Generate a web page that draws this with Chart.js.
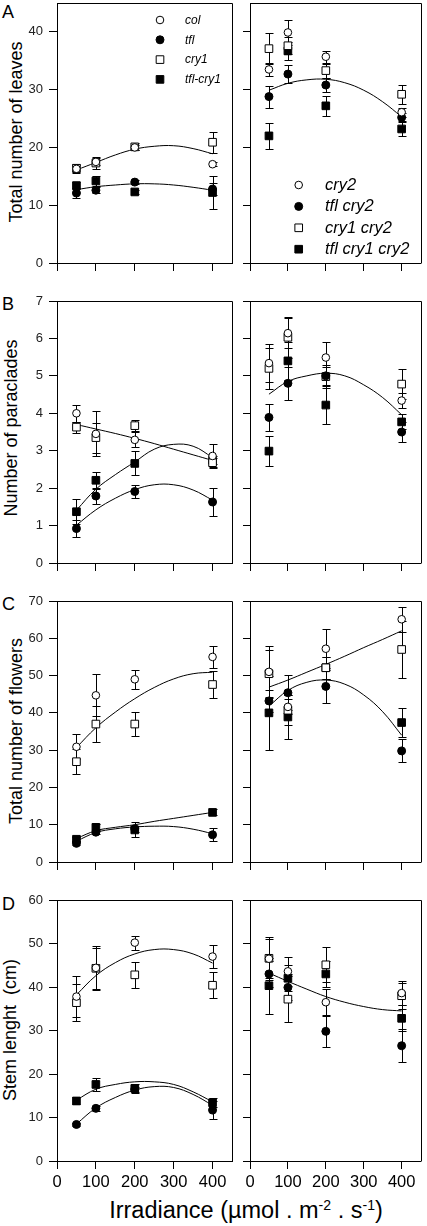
<!DOCTYPE html>
<html>
<head>
<meta charset="utf-8">
<script src="https://cdn.jsdelivr.net/npm/chart.js@4.4.1/dist/chart.umd.min.js"></script>
<style>
  html, body { margin: 0; padding: 0; background: #fff; }
  body { width: 427px; height: 1226px; position: relative; overflow: hidden;
         font-family: "Liberation Sans", Arial, sans-serif; color: #000; }
  canvas { position: absolute; }
  .ytitle { position: absolute; width: 300px; height: 20px; text-align: center;
            font-size: 18px; line-height: 20px; transform: rotate(-90deg); white-space: pre; }
  .letter { position: absolute; left: 2px; font-size: 18px; line-height: 18px; }
  .xtitle { position: absolute; left: 26px; width: 440px; top: 1199px; text-align: center;
            font-size: 23.5px; line-height: 23.5px; white-space: pre; }
  .xtitle sup { font-size: 0.6em; vertical-align: 0.55em; line-height: 0; }
</style>
</head>
<body>
<div class="letter" style="top:2.6px">A</div>
<div class="letter" style="top:294.6px">B</div>
<div class="letter" style="top:594.6px">C</div>
<div class="letter" style="top:894.6px">D</div>
<div class="ytitle" style="left:-134px; top:122px">Total number of leaves</div>
<div class="ytitle" style="left:-139px; top:418px">Number of paraclades</div>
<div class="ytitle" style="left:-134px; top:720.5px">Total number of flowers</div>
<div class="ytitle" style="left:-140px; top:1020px">Stem lenght  (cm)</div>
<div class="xtitle">Irradiance (µmol . m<sup>-2</sup> . s<sup>-1</sup>)</div>

<script>
// ---------------- DATA ----------------
const X = [50, 100, 200, 400];                       // irradiance levels
const FIT_X = [50, 100, 150, 200, 250, 300, 350, 400]; // positions where fitted curves were read
const X_TICKS = [0, 100, 200, 300, 400];

const LEGEND_LEFT = ['col', 'tfl', 'cry1', 'tfl-cry1'];
const LEGEND_RIGHT = ['cry2', 'tfl cry2', 'cry1 cry2', 'tfl cry1 cry2'];

// A: Total number of leaves
const Y_TICKS_LEAVES = [0, 10, 20, 30, 40];
const leavesCol        = [16.3, 17.5, 20.0, 17.1];
const leavesColErr     = [0.6, 0.6, 0.5, 0.3];
const leavesTfl        = [12.1, 12.6, 14.0, 12.8];
const leavesTflErr     = [0.8, 0.5, 0.3, 1.0];
const leavesCry1       = [16.4, 17.3, 20.1, 20.9];
const leavesCry1Err    = [0.8, 1.0, 0.6, 1.8];
const leavesTflCry1    = [13.4, 14.2, 12.3, 12.2];
const leavesTflCry1Err = [0.6, 0.9, 0.4, 2.8];
const leavesCry2            = [33.5, 39.9, 35.7, 26.1];
const leavesCry2Err         = [1.2, 2.1, 1.0, 0.8];
const leavesTflCry2         = [28.8, 32.7, 30.8, 25.2];
const leavesTflCry2Err      = [1.9, 1.5, 1.2, 0.8];
const leavesCry1Cry2        = [37.1, 37.6, 33.3, 29.2];
const leavesCry1Cry2Err     = [2.7, 1.5, 1.2, 1.6];
const leavesTflCry1Cry2     = [22.0, 36.7, 27.2, 23.2];
const leavesTflCry1Cry2Err  = [2.3, 1.6, 1.7, 1.3];
const leavesFitL1 = [16.1, 17.4, 18.7, 19.7, 20.2, 20.3, 19.8, 18.9];
const leavesFitL2 = [12.7, 13.2, 13.5, 13.7, 13.7, 13.5, 13.1, 12.6];
const leavesFitR  = [29.9, 31.1, 31.7, 31.8, 31.2, 29.9, 27.9, 25.3];

// B: Number of paraclades
const Y_TICKS_PARA = [0, 1, 2, 3, 4, 5, 6, 7];
const paraCol        = [4.00, 3.45, 3.29, 2.86];
const paraColErr     = [0.22, 0.6, 0.2, 0.33];
const paraTfl        = [0.92, 1.79, 1.91, 1.63];
const paraTflErr     = [0.22, 0.22, 0.17, 0.38];
const paraCry1       = [3.63, 3.35, 3.67, 2.68];
const paraCry1Err    = [0.15, 0.4, 0.15, 0.12];
const paraTflCry1    = [1.37, 2.21, 2.66, 2.75];
const paraTflCry1Err = [0.33, 0.22, 0.32, 0.1];
const paraCry2           = [5.34, 6.14, 5.49, 4.34];
const paraCry2Err        = [0.5, 0.4, 0.42, 0.2];
const paraTflCry2        = [3.89, 4.80, 5.00, 3.50];
const paraTflCry2Err     = [0.35, 0.45, 0.25, 0.27];
const paraCry1Cry2       = [5.20, 6.03, 4.98, 4.78];
const paraCry1Cry2Err    = [0.55, 0.55, 0.3, 0.4];
const paraTflCry1Cry2    = [2.99, 5.40, 4.22, 3.77];
const paraTflCry1Cry2Err = [0.4, 0.5, 0.5, 0.2];
const paraFitL1 = [3.70, 3.58, 3.46, 3.33, 3.19, 3.04, 2.89, 2.74];
const paraFitL2 = [1.41, 1.97, 2.36, 2.70, 3.04, 3.17, 3.12, 2.82];
const paraFitL3 = [1.01, 1.42, 1.73, 1.96, 2.09, 2.09, 1.95, 1.68];
const paraFitR  = [4.51, 4.85, 5.00, 5.07, 5.00, 4.76, 4.42, 3.96];

// C: Total number of flowers
const Y_TICKS_FLOWERS = [0, 10, 20, 30, 40, 50, 60, 70];
const flowCol        = [30.9, 44.7, 49.0, 55.0];
const flowColErr     = [3.4, 5.6, 2.6, 3.0];
const flowTfl        = [5.0, 8.0, 8.9, 7.3];
const flowTflErr     = [0.5, 0.6, 0.8, 1.8];
const flowCry1       = [26.9, 37.0, 37.0, 47.6];
const flowCry1Err    = [3.4, 4.8, 3.3, 3.7];
const flowTflCry1    = [6.1, 9.3, 8.6, 13.3];
const flowTflCry1Err = [0.6, 0.9, 2.0, 0.8];
const flowCry2           = [51.0, 41.6, 57.2, 65.1];
const flowCry2Err        = [7.0, 2.0, 5.3, 3.3];
const flowTflCry2        = [43.2, 45.4, 47.1, 29.8];
const flowTflCry2Err     = [3.0, 4.7, 4.4, 3.1];
const flowCry1Cry2       = [50.5, 40.7, 52.1, 57.0];
const flowCry1Cry2Err    = [6.3, 4.0, 3.0, 7.6];
const flowTflCry1Cry2    = [40.0, 38.9, 52.1, 37.4];
const flowTflCry1Cry2Err = [10.0, 6.0, 3.0, 4.0];
const flowFitL1 = [30.7, 36.0, 40.2, 43.8, 46.8, 49.1, 50.5, 50.9];
const flowFitL2 = [6.3, 8.4, 9.3, 10.0, 10.9, 11.7, 12.5, 13.3];
const flowFitL3 = [5.6, 7.9, 8.9, 9.4, 9.6, 9.5, 8.8, 7.6];
const flowFitR1 = [46.9, 48.8, 50.9, 53.0, 55.2, 57.5, 59.7, 62.0];
const flowFitR2 = [41.8, 46.0, 48.2, 48.8, 47.7, 44.8, 40.3, 34.0];

// D: Stem length (cm)
const Y_TICKS_STEM = [0, 10, 20, 30, 40, 50, 60];
const stemCol        = [37.8, 44.4, 50.2, 47.0];
const stemColErr     = [4.8, 5.0, 1.6, 2.6];
const stemTfl        = [8.4, 12.1, 16.5, 11.7];
const stemTflErr     = [0.4, 0.5, 0.6, 2.0];
const stemCry1       = [36.4, 44.3, 42.8, 40.4];
const stemCry1Err    = [4.2, 4.7, 3.0, 3.0];
const stemTflCry1    = [13.8, 17.6, 16.7, 13.4];
const stemTflCry1Err = [0.8, 1.4, 1.0, 1.0];
const stemCry2           = [46.5, 43.6, 36.5, 38.6];
const stemCry2Err        = [5.0, 3.4, 3.0, 2.8];
const stemTflCry2        = [43.0, 39.9, 29.8, 26.5];
const stemTflCry2Err     = [3.0, 3.0, 3.6, 3.8];
const stemCry1Cry2       = [46.6, 37.2, 45.1, 38.0];
const stemCry1Cry2Err    = [4.5, 5.3, 4.0, 3.0];
const stemTflCry1Cry2    = [40.3, 42.0, 43.0, 32.8];
const stemTflCry1Cry2Err = [6.4, 3.0, 3.0, 3.0];
const stemFitL1 = [38.2, 42.6, 45.6, 47.6, 48.6, 48.6, 47.6, 45.5];
const stemFitL2 = [14.0, 16.5, 17.6, 18.2, 18.2, 17.6, 15.9, 13.6];
const stemFitL3 = [8.5, 12.2, 14.6, 16.3, 17.1, 16.9, 15.3, 12.8];
const stemFitR  = [43.2, 41.3, 39.5, 37.8, 36.5, 35.5, 34.8, 34.5];

// ---------------- STYLE ----------------
const STYLES = {
  openCircle:   { pointStyle: 'circle', r: 3.8, fill: '#fff' },
  filledCircle: { pointStyle: 'circle', r: 4.0, fill: '#000' },
  openSquare:   { pointStyle: 'rect',   r: 5.4, fill: '#fff' },
  filledSquare: { pointStyle: 'rect',   r: 5.4, fill: '#000' }
};
const STYLE_ORDER = ['openCircle', 'filledCircle', 'openSquare', 'filledSquare'];

// x tick label font: a narrow face if present
function hasFont(name) {
  const c = document.createElement('canvas').getContext('2d');
  c.font = '40px monospace'; const a = c.measureText('400 abc').width;
  c.font = '40px "' + name + '", monospace'; const b = c.measureText('400 abc').width;
  return Math.abs(a - b) > 0.5;
}
const X_TICK_FONT = hasFont('Liberation Sans Narrow')
  ? { family: '"Liberation Sans Narrow"', size: 19 }
  : { family: '"Liberation Sans"', size: 16.5 };

function pointSet(label, values, errors, styleName) {
  const s = STYLES[styleName];
  return {
    label, data: X.map((x, i) => ({ x, y: values[i] })), errors,
    showLine: false, pointStyle: s.pointStyle, pointRadius: s.r, pointHoverRadius: s.r,
    pointBackgroundColor: s.fill, pointBorderColor: '#000', pointBorderWidth: 1,
    backgroundColor: s.fill, borderColor: '#000', order: 0
  };
}
function fitSet(values) {
  return {
    data: FIT_X.map((x, i) => ({ x, y: values[i] })), showLine: true,
    pointRadius: 0, pointHoverRadius: 0, borderColor: '#000', borderWidth: 1,
    tension: 0.4, fill: false, order: 5
  };
}

const errorBars = {
  id: 'errorBars',
  beforeDatasetsDraw(chart) {
    const ctx = chart.ctx, xs = chart.scales.x, ys = chart.scales.y;
    ctx.save();
    ctx.strokeStyle = '#000'; ctx.lineWidth = 1;
    chart.data.datasets.forEach(ds => {
      if (!ds.errors) return;
      ds.data.forEach((pt, i) => {
        const e = ds.errors[i]; if (!e) return;
        const px = Math.round(xs.getPixelForValue(pt.x)) + 0.5;
        const y1 = Math.round(ys.getPixelForValue(pt.y + e)) + 0.5;
        const y2 = Math.round(ys.getPixelForValue(pt.y - e)) + 0.5;
        ctx.beginPath();
        ctx.moveTo(px, y1); ctx.lineTo(px, y2);
        ctx.moveTo(px - 4, y1); ctx.lineTo(px + 4, y1);
        ctx.moveTo(px - 4, y2); ctx.lineTo(px + 4, y2);
        ctx.stroke();
      });
    });
    ctx.restore();
  }
};

const frame = {
  id: 'frame',
  afterDraw(chart) {
    const { left, top, right, bottom } = chart.chartArea, ctx = chart.ctx;
    ctx.save(); ctx.strokeStyle = '#000'; ctx.lineWidth = 1;
    ctx.beginPath();
    const l = Math.round(left) + 0.5, t = Math.round(top) + 0.5, r = Math.round(right) + 0.5, b = Math.round(bottom) + 0.5;
    ctx.moveTo(l, t); ctx.lineTo(r, t); ctx.lineTo(r, b);
    ctx.stroke(); ctx.restore();
  }
};

const insetLegend = {
  id: 'insetLegend',
  afterDraw(chart, args, o) {
    if (!o || !o.labels) return;
    const ctx = chart.ctx, ca = chart.chartArea;
    ctx.save();
    o.labels.forEach((lab, i) => {
      const s = STYLES[STYLE_ORDER[i]];
      const cx = ca.left + o.dx, cy = ca.top + o.dy + i * o.step;
      ctx.fillStyle = s.fill; ctx.strokeStyle = '#000'; ctx.lineWidth = 1;
      ctx.beginPath();
      if (s.pointStyle === 'circle') ctx.arc(cx, cy, s.r, 0, Math.PI * 2);
      else { const h = s.r * Math.SQRT1_2; ctx.rect(cx - h, cy - h, 2 * h, 2 * h); }
      ctx.fill(); ctx.stroke();
      ctx.fillStyle = '#000'; ctx.font = 'italic ' + o.size + 'px "Liberation Sans", Arial, sans-serif';
      ctx.textBaseline = 'middle'; ctx.textAlign = 'left';
      ctx.fillText(lab, ca.left + o.tx, cy + 0.5);
    });
    ctx.restore();
  }
};

function makePanel(p) {
  const isL = p.col === 'L';
  const cw = isL ? 240 : 191, cl = isL ? 0 : 236;
  const yw = isL ? 57 : 14, pr = isL ? 8 : 3;
  const axisH = p.showX ? 30 : 8;
  const pb = p.showX ? 0 : 12;
  const plotH = p.bottom - p.top;
  const ch = 20 + plotH + axisH + pb;
  const cv = document.createElement('canvas');
  cv.width = cw; cv.height = ch;
  cv.style.left = cl + 'px'; cv.style.top = (p.top - 20) + 'px';
  cv.style.width = cw + 'px'; cv.style.height = ch + 'px';
  document.body.appendChild(cv);

  const datasets = p.series.map((s, i) => pointSet(s[0], s[1], s[2], STYLE_ORDER[i]))
    .concat(p.fits.map(fitSet));

  new Chart(cv, {
    type: 'scatter',
    data: { datasets },
    plugins: [errorBars, frame, insetLegend],
    options: {
      responsive: false, animation: false, devicePixelRatio: 1, events: [],
      layout: { padding: { top: 20, bottom: pb, left: 0, right: pr } },
      plugins: { legend: { display: false }, tooltip: { enabled: false },
                 insetLegend: p.legend || {} },
      scales: {
        x: {
          type: 'linear', position: 'bottom', min: 0, max: 450,
          afterBuildTicks: ax => { ax.ticks = X_TICKS.map(v => ({ value: v })); },
          afterFit: ax => { ax.height = axisH; },
          ticks: { display: p.showX, font: X_TICK_FONT, color: '#000', padding: 4,
                   maxRotation: 0, autoSkip: false },
          grid: { drawOnChartArea: false, drawTicks: true, tickLength: 8, color: '#000', lineWidth: 1 },
          border: { display: true, color: '#000', width: 1 }
        },
        y: {
          type: 'linear', position: 'left', min: 0, max: p.yMax,
          afterBuildTicks: ax => { ax.ticks = p.yTicks.map(v => ({ value: v })); },
          afterFit: ax => { ax.width = yw; },
          ticks: { display: isL, font: { family: '"Liberation Sans", Arial', size: 13 }, color: '#222', padding: 6 },
          grid: { drawOnChartArea: false, drawTicks: true, tickLength: isL ? 8 : 7, color: '#000', lineWidth: 1 },
          border: { display: true, color: '#000', width: 1 }
        }
      }
    }
  });
}

// ---------------- PANELS ----------------
makePanel({ col: 'L', top: 3, bottom: 263, yMax: 45, yTicks: Y_TICKS_LEAVES, showX: false,
  series: [[LEGEND_LEFT[0], leavesCol, leavesColErr], [LEGEND_LEFT[1], leavesTfl, leavesTflErr],
           [LEGEND_LEFT[2], leavesCry1, leavesCry1Err], [LEGEND_LEFT[3], leavesTflCry1, leavesTflCry1Err]],
  fits: [leavesFitL1, leavesFitL2],
  legend: { labels: LEGEND_LEFT, dx: 103, dy: 17, step: 19.8, tx: 128, size: 12 } });
makePanel({ col: 'R', top: 3, bottom: 263, yMax: 45, yTicks: Y_TICKS_LEAVES, showX: false,
  series: [[LEGEND_RIGHT[0], leavesCry2, leavesCry2Err], [LEGEND_RIGHT[1], leavesTflCry2, leavesTflCry2Err],
           [LEGEND_RIGHT[2], leavesCry1Cry2, leavesCry1Cry2Err], [LEGEND_RIGHT[3], leavesTflCry1Cry2, leavesTflCry1Cry2Err]],
  fits: [leavesFitR],
  legend: { labels: LEGEND_RIGHT, dx: 48.7, dy: 182, step: 21.4, tx: 75, size: 16.5 } });

makePanel({ col: 'L', top: 301, bottom: 563, yMax: 7, yTicks: Y_TICKS_PARA, showX: false,
  series: [[LEGEND_LEFT[0], paraCol, paraColErr], [LEGEND_LEFT[1], paraTfl, paraTflErr],
           [LEGEND_LEFT[2], paraCry1, paraCry1Err], [LEGEND_LEFT[3], paraTflCry1, paraTflCry1Err]],
  fits: [paraFitL1, paraFitL2, paraFitL3] });
makePanel({ col: 'R', top: 301, bottom: 563, yMax: 7, yTicks: Y_TICKS_PARA, showX: false,
  series: [[LEGEND_RIGHT[0], paraCry2, paraCry2Err], [LEGEND_RIGHT[1], paraTflCry2, paraTflCry2Err],
           [LEGEND_RIGHT[2], paraCry1Cry2, paraCry1Cry2Err], [LEGEND_RIGHT[3], paraTflCry1Cry2, paraTflCry1Cry2Err]],
  fits: [paraFitR] });

makePanel({ col: 'L', top: 601, bottom: 862, yMax: 70, yTicks: Y_TICKS_FLOWERS, showX: false,
  series: [[LEGEND_LEFT[0], flowCol, flowColErr], [LEGEND_LEFT[1], flowTfl, flowTflErr],
           [LEGEND_LEFT[2], flowCry1, flowCry1Err], [LEGEND_LEFT[3], flowTflCry1, flowTflCry1Err]],
  fits: [flowFitL1, flowFitL2, flowFitL3] });
makePanel({ col: 'R', top: 601, bottom: 862, yMax: 70, yTicks: Y_TICKS_FLOWERS, showX: false,
  series: [[LEGEND_RIGHT[0], flowCry2, flowCry2Err], [LEGEND_RIGHT[1], flowTflCry2, flowTflCry2Err],
           [LEGEND_RIGHT[2], flowCry1Cry2, flowCry1Cry2Err], [LEGEND_RIGHT[3], flowTflCry1Cry2, flowTflCry1Cry2Err]],
  fits: [flowFitR1, flowFitR2] });

makePanel({ col: 'L', top: 900, bottom: 1161, yMax: 60, yTicks: Y_TICKS_STEM, showX: true,
  series: [[LEGEND_LEFT[0], stemCol, stemColErr], [LEGEND_LEFT[1], stemTfl, stemTflErr],
           [LEGEND_LEFT[2], stemCry1, stemCry1Err], [LEGEND_LEFT[3], stemTflCry1, stemTflCry1Err]],
  fits: [stemFitL1, stemFitL2, stemFitL3] });
makePanel({ col: 'R', top: 900, bottom: 1161, yMax: 60, yTicks: Y_TICKS_STEM, showX: true,
  series: [[LEGEND_RIGHT[0], stemCry2, stemCry2Err], [LEGEND_RIGHT[1], stemTflCry2, stemTflCry2Err],
           [LEGEND_RIGHT[2], stemCry1Cry2, stemCry1Cry2Err], [LEGEND_RIGHT[3], stemTflCry1Cry2, stemTflCry1Cry2Err]],
  fits: [stemFitR] });
</script>
</body>
</html>
